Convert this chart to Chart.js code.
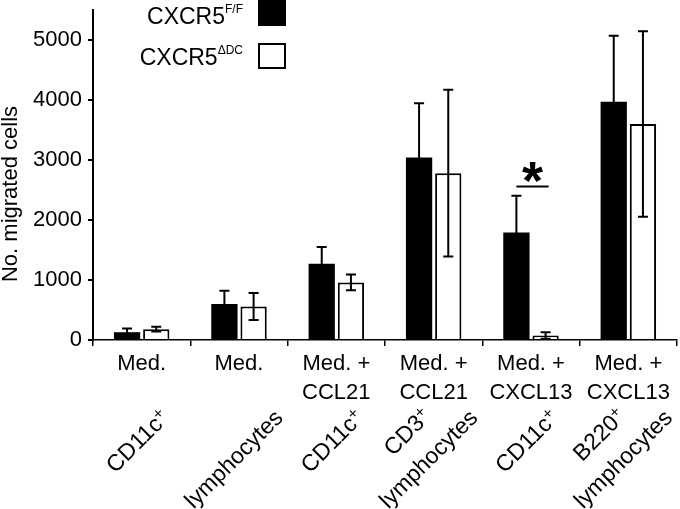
<!DOCTYPE html>
<html>
<head>
<meta charset="utf-8">
<script src="https://cdn.jsdelivr.net/npm/chart.js@4.4.0/dist/chart.umd.min.js"></script>
<style>
    html, body { margin: 0; padding: 0; background: #fff; }
    #wrap { width: 680px; height: 509px; position: relative; }
</style>
</head>
<body>
<div id="wrap"><canvas id="grafico"></canvas></div>
<script>
// ===== Datos =====
const condiciones = [
    ['Med.'],
    ['Med.'],
    ['Med. +', 'CCL21'],
    ['Med. +', 'CCL21'],
    ['Med. +', 'CXCL13'],
    ['Med. +', 'CXCL13']
];
const tiposCelula = [
    ['CD11c+'],
    ['lymphocytes'],
    ['CD11c+'],
    ['CD3+', 'lymphocytes'],
    ['CD11c+'],
    ['B220+', 'lymphocytes']
];
const valoresFF = [130, 600, 1270, 3040, 1790, 3970];
const erroresFF = [60, 220, 280, 905, 615, 1100];
const valoresDC = [180, 560, 960, 2780, 75, 3600];
const erroresDC = [40, 225, 130, 1390, 55, 1545];
const ticksY = [0, 1000, 2000, 3000, 4000, 5000];
// diferencia significativa: categoría y altura de la barra horizontal
const signifIndice = 4;
const signifNivel = 2560;

const fuente = '"Liberation Sans", Arial, sans-serif';

// ===== Plugin: barras de error =====
const barrasError = {
    id: 'barrasError',
    afterDatasetsDraw(chart) {
        const ctx = chart.ctx;
        const y = chart.scales.y;
        const errores = [erroresFF, erroresDC];
        ctx.save();
        ctx.strokeStyle = '#000';
        ctx.lineWidth = 2;
        chart.data.datasets.forEach((ds, i) => {
            const meta = chart.getDatasetMeta(i);
            meta.data.forEach((bar, j) => {
                const v = ds.data[j];
                const e = errores[i][j];
                const yTop = y.getPixelForValue(v + e);
                const yBot = y.getPixelForValue(Math.max(v - e, 0));
                ctx.beginPath();
                ctx.moveTo(bar.x, yTop);
                ctx.lineTo(bar.x, yBot);
                ctx.moveTo(bar.x - 5, yTop);
                ctx.lineTo(bar.x + 5, yTop);
                ctx.moveTo(bar.x - 5, yBot);
                ctx.lineTo(bar.x + 5, yBot);
                ctx.stroke();
            });
        });
        ctx.restore();
    }
};

// ===== Plugin: textos extra (leyenda, título eje, etiquetas giradas, asterisco) =====
function medirConSuper(ctx, texto, tam) {
    let principal = texto, sup = '';
    if (texto.endsWith('+')) { principal = texto.slice(0, -1); sup = '+'; }
    ctx.font = `${tam}px ${fuente}`;
    let w = ctx.measureText(principal).width;
    ctx.font = `${Math.round(tam * 0.68)}px ${fuente}`;
    if (sup) w += ctx.measureText(sup).width;
    return w;
}

function textoConSuper(ctx, texto, xDer, yBase, tam) {
    // texto alineado a la derecha; un '+' final va como superíndice
    let principal = texto, sup = '';
    if (texto.endsWith('+')) { principal = texto.slice(0, -1); sup = '+'; }
    ctx.textAlign = 'right';
    ctx.font = `${Math.round(tam * 0.68)}px ${fuente}`;
    const anchoSup = sup ? ctx.measureText(sup).width : 0;
    if (sup) ctx.fillText(sup, xDer, yBase - tam * 0.32);
    ctx.font = `${tam}px ${fuente}`;
    ctx.fillText(principal, xDer - anchoSup, yBase);
}

const extras = {
    id: 'extras',
    afterDraw(chart) {
        const ctx = chart.ctx;
        const x = chart.scales.x;
        const y = chart.scales.y;
        ctx.save();
        ctx.fillStyle = '#000';
        ctx.textBaseline = 'alphabetic';

        // título eje Y
        ctx.save();
        ctx.translate(17, 194);
        ctx.rotate(-Math.PI / 2);
        ctx.font = `22px ${fuente}`;
        ctx.textAlign = 'center';
        ctx.fillText('No. migrated cells', 0, 0);
        ctx.restore();

        // leyenda
        const filas = [
            { sup: 'F/F', base: 24, caja: 0, relleno: '#000' },
            { sup: '\u0394DC', base: 65, caja: 43, relleno: '#fff' }
        ];
        filas.forEach(f => {
            ctx.font = `12px ${fuente}`;
            ctx.textAlign = 'right';
            const w = ctx.measureText(f.sup).width;
            ctx.fillText(f.sup, 243, f.base - 11);
            ctx.font = `23px ${fuente}`;
            ctx.fillText('CXCR5', 243 - w, f.base);
            ctx.fillStyle = f.relleno;
            ctx.fillRect(258, f.caja, 28, 26);
            ctx.strokeStyle = '#000';
            ctx.lineWidth = 2;
            ctx.strokeRect(259, f.caja + 1, 26, 24);
            ctx.fillStyle = '#000';
        });

        // etiquetas de tipo celular giradas 45°
        const tam = 23;
        const d = Math.SQRT1_2;
        tiposCelula.forEach((lineas, i) => {
            const cx = x.getPixelForValue(i);
            const ultima = lineas[lineas.length - 1];
            const L = medirConSuper(ctx, ultima, tam);
            // fin de la línea base de la última línea
            const ax = cx + 0.33 * L + 3;
            const ay = 419;
            lineas.forEach((txt, k) => {
                const nivel = lineas.length - 1 - k;
                const px = ax + nivel * (-34 * d - 32 * d);
                const py = ay + nivel * (-34 * d + 32 * d);
                ctx.save();
                ctx.translate(px, py);
                ctx.rotate(-Math.PI / 4);
                textoConSuper(ctx, txt, 0, 0, tam);
                ctx.restore();
            });
        });

        // marca de significancia
        const mFF = chart.getDatasetMeta(0).data[signifIndice];
        const mDC = chart.getDatasetMeta(1).data[signifIndice];
        const yl = y.getPixelForValue(signifNivel);
        ctx.strokeStyle = '#000';
        ctx.lineWidth = 2;
        ctx.beginPath();
        ctx.moveTo(mFF.x, yl);
        ctx.lineTo(mDC.x + 3, yl);
        ctx.stroke();
        ctx.font = `bold 54px ${fuente}`;
        ctx.textAlign = 'center';
        const m = ctx.measureText('*');
        const cy = yl - 14;
        ctx.fillText('*', (mFF.x + mDC.x + 3) / 2, cy + (m.actualBoundingBoxAscent - m.actualBoundingBoxDescent) / 2);

        ctx.restore();
    }
};

// ===== Gráfico =====
new Chart(document.getElementById('grafico'), {
    type: 'bar',
    data: {
        labels: condiciones,
        datasets: [
            {
                label: 'CXCR5 F/F',
                data: valoresFF,
                backgroundColor: '#000',
                borderWidth: 0,
                categoryPercentage: 0.6,
                barPercentage: 0.9
            },
            {
                label: 'CXCR5 \u0394DC',
                data: valoresDC,
                backgroundColor: '#fff',
                borderColor: '#000',
                borderWidth: 2,
                categoryPercentage: 0.6,
                barPercentage: 0.9
            }
        ]
    },
    options: {
        responsive: true,
        maintainAspectRatio: false,
        animation: false,
        layout: { padding: { left: 0, right: 3, top: 10, bottom: 0 } },
        plugins: {
            legend: { display: false },
            tooltip: { enabled: false }
        },
        scales: {
            x: {
                offset: true,
                afterFit: s => { s.height = 169; s.paddingLeft = 0; s.paddingRight = 0; },
                grid: {
                    offset: true,
                    drawOnChartArea: false,
                    drawTicks: true,
                    tickLength: 6,
                    color: '#000',
                    lineWidth: 1.5
                },
                border: { color: '#000', width: 1.5 },
                ticks: {
                    color: '#000',
                    maxRotation: 0,
                    autoSkip: false,
                    padding: 4,
                    font: { family: fuente, size: 22, lineHeight: 1.3 }
                }
            },
            y: {
                min: 0,
                max: 5500,
                afterFit: s => { s.width = 93; s.paddingTop = 0; s.paddingBottom = 0; },
                afterBuildTicks: s => { s.ticks = ticksY.map(v => ({ value: v })); },
                grid: {
                    drawOnChartArea: false,
                    drawTicks: true,
                    tickLength: 5,
                    color: '#000',
                    lineWidth: 2
                },
                border: { color: '#000', width: 2 },
                ticks: {
                    color: '#000',
                    padding: 6,
                    callback: v => String(v),
                    font: { family: fuente, size: 22 }
                }
            }
        }
    },
    plugins: [barrasError, extras]
});
</script>
</body>
</html>
